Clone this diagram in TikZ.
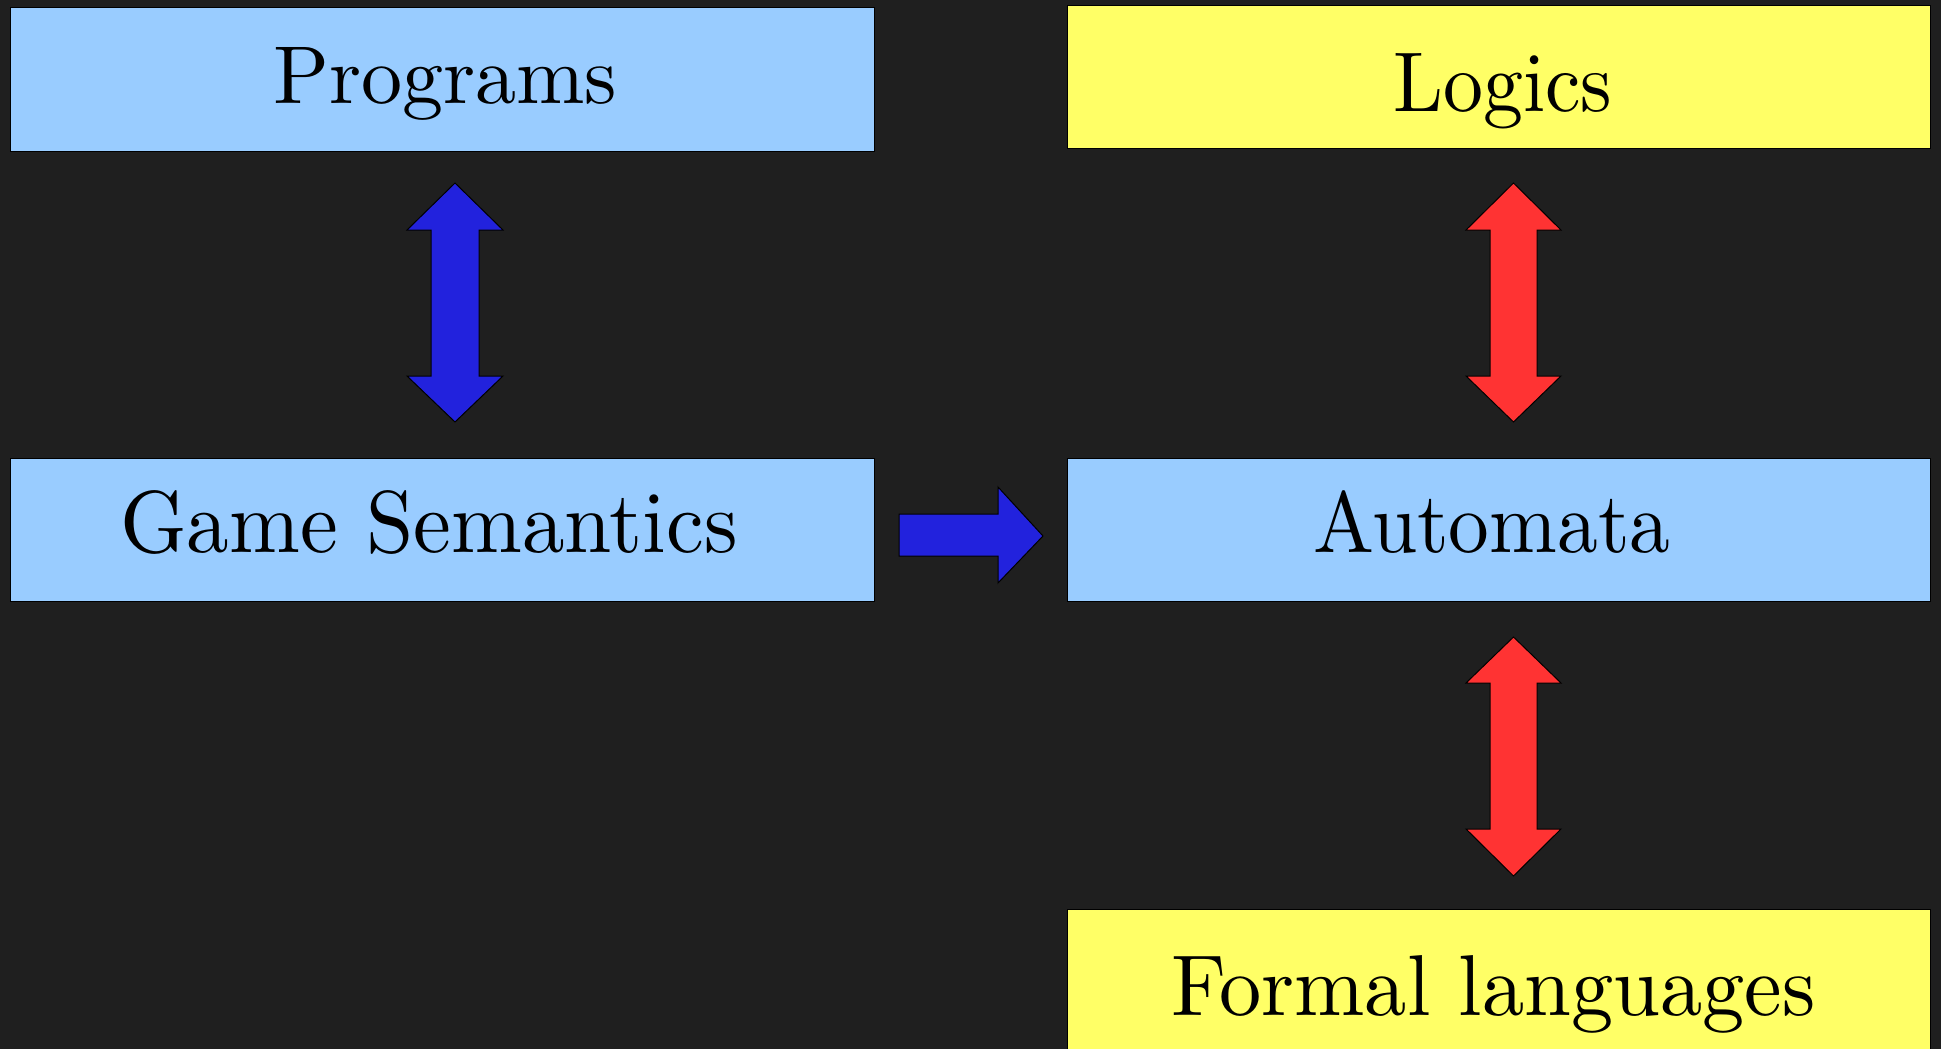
\documentclass[tikz,border=0pt]{standalone}
\usepackage{graphicx}
\definecolor{bgc}{HTML}{1F1F1F}
\definecolor{boxblue}{HTML}{99CCFF}
\definecolor{boxyellow}{HTML}{FFFF66}
\definecolor{arrblue}{HTML}{2222DD}
\definecolor{arrred}{HTML}{FF3333}
\newcommand{\lbl}[3]{\resizebox{#1pt}{#2pt}{\smash{#3}\vphantom{X}}}
\tikzset{
  boxb/.style={draw=black, line width=1.2pt, fill=boxblue, anchor=north west, inner sep=0pt},
  boxy/.style={draw=black, line width=1.2pt, fill=boxyellow, anchor=north west, inner sep=0pt},
  txt/.style={anchor=base west, inner sep=0pt, text=black},
  arrb/.style={draw=black, line width=1pt, fill=arrblue, line join=miter},
  arrr/.style={draw=black, line width=1pt, fill=arrred, line join=miter},
}
\begin{document}
\begin{tikzpicture}[x=1pt,y=-1pt]
\useasboundingbox (0,0) rectangle (1941,1049);
\fill[bgc] (0,0) rectangle (1941,1049);
\begin{scope}
\clip (0,0) rectangle (1941,1049);
% boxes
\node[boxb, minimum width=864pt, minimum height=144pt] (prog) at (10,7) {};
\node[boxy, minimum width=863pt, minimum height=143pt] (logi) at (1067,5) {};
\node[boxb, minimum width=864pt, minimum height=143pt] (game) at (10,458) {};
\node[boxb, minimum width=863pt, minimum height=143pt] (auto) at (1067,458) {};
\node[boxy, minimum width=863pt, minimum height=160pt] (form) at (1067,909) {};
\end{scope}
% texts
\node[txt] (tprog) at (273,103) {\lbl{344}{56}{Programs}};
\node[txt] (tlogi) at (1393,111) {\lbl{219}{58}{Logics}};
\node[txt] (tgame) at (120,552) {\lbl{617}{60}{Game Semantics}};
\node[txt] (tauto) at (1313,552) {\lbl{357}{59}{Automata}};
\node[txt] (tform) at (1171,1015) {\lbl{644}{59}{Formal languages}};
% blue double arrow (Programs <-> Game Semantics)
\draw[arrb] (455,183) -- (503,230) -- (479,230) -- (479,376) -- (503,376)
  -- (455,422) -- (407,376) -- (431,376) -- (431,230) -- (407,230) -- cycle;
% red double arrow (Logics <-> Automata)
\draw[arrr] (1513.5,183) -- (1561,230) -- (1537,230) -- (1537,376) -- (1561,376)
  -- (1513.5,422) -- (1466,376) -- (1490,376) -- (1490,230) -- (1466,230) -- cycle;
% red double arrow (Automata <-> Formal languages)
\draw[arrr] (1513.5,637) -- (1561,683) -- (1537,683) -- (1537,829) -- (1561,829)
  -- (1513.5,876) -- (1466,829) -- (1490,829) -- (1490,683) -- (1466,683) -- cycle;
% blue right arrow (Game Semantics -> Automata)
\draw[arrb] (899,514) -- (998,514) -- (998,487) -- (1043,536) -- (998,583)
  -- (998,556) -- (899,556) -- cycle;
\end{tikzpicture}
\end{document}
